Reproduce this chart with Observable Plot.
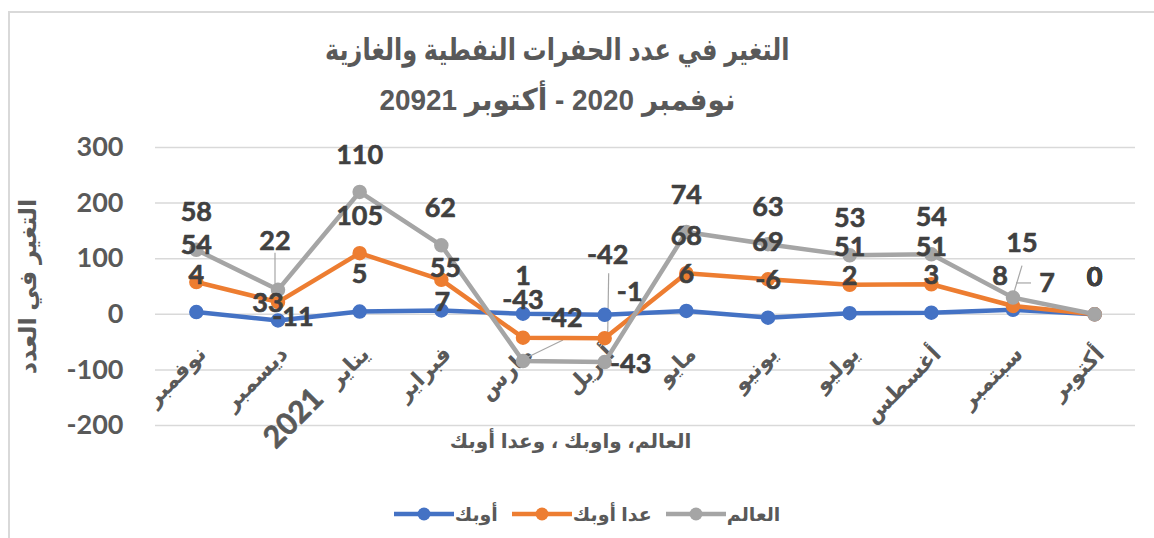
<!DOCTYPE html>
<html><head><meta charset="utf-8">
<script src="https://cdn.jsdelivr.net/npm/d3@7"></script>
<script src="https://cdn.jsdelivr.net/npm/@observablehq/plot@0.6"></script>
<style>
body{margin:0;background:#fff;}
#chart{position:relative;width:1154px;height:538px;overflow:hidden;background:#fff;}
#frame{position:absolute;left:8px;top:11px;width:1170px;height:560px;border:2px solid #d9d9d9;box-sizing:border-box;}
#title{position:absolute;left:0;top:25px;width:1114px;text-align:center;color:#595959;font-family:"Liberation Sans","DejaVu Sans",sans-serif;font-weight:bold;font-size:30px;line-height:50px;}
#title div{direction:rtl;}
#title span{display:inline-block;}
#title .l1{transform:scaleX(0.8);}
#title .l2{transform:scaleX(0.93);}
#plot{position:absolute;left:0;top:125px;}
#legend{position:absolute;left:0;top:494px;width:1160px;height:40px;display:flex;justify-content:center;align-items:center;direction:rtl;font-family:"Liberation Sans","DejaVu Sans",sans-serif;font-weight:bold;font-size:19px;color:#595959;}
.item{display:flex;align-items:center;margin-left:14px;}
.item svg{margin-right:1px;}
</style></head>
<body>
<div id="chart">
<div id="frame"></div>
<div id="title"><div><span class="l1">التغير في عدد الحفرات النفطية والغازية</span></div><div><span class="l2">نوفمبر 2020 - أكتوبر 20921</span></div></div>
<div id="plot"></div>
<div id="legend"></div>
</div>
<script>
// ---- data ----
const months = ["نوفمبر","ديسمبر","يناير","فبراير","مارس","أبريل","مايو","يونيو","يوليو","أغسطس","سبتمبر","أكتوبر"];
const yearNote = "2021";
const opec    = [4, -11, 5, 7, 1, -1, 6, -6, 2, 3, 8, 0];
const nonOpec = [54, 33, 105, 55, -43, -42, 68, 69, 51, 51, 7, 0];
const world   = [58, 22, 110, 62, -42, -43, 74, 63, 53, 54, 15, 0];
const seriesNames = ["أوبك", "عدا أوبك", "العالم"];
const yTicks = [-200, -100, 0, 100, 200, 300];
const yTitle = "التغير في العدد";
const xTitle = "العالم، واوبك ، وعدا أوبك";

// ---- styling / layout ----
const colors = ["#4472C4", "#ED7D31", "#A5A5A5"];
const W = 1154, H = 345, ML = 155, MR = 19, MT = 22, MB = 45;
const numFont = "Lato, 'DejaVu Sans', sans-serif";
const arFont = "'Liberation Sans', 'DejaVu Sans', sans-serif";

// stacked line (cumulative) as in the source chart
const seriesVals = [opec, nonOpec, world];
const rows = [];
const cum = months.map(() => 0);
seriesVals.forEach((vals, s) => {
  vals.forEach((v, i) => {
    cum[i] += v;
    rows.push({s, name: seriesNames[s], i, value: v, cum: cum[i]});
  });
});

// manual label placement (pixel offsets), like moved labels in the source
const labelOffset = {
  "1-0": [15, -3], "1-1": [-10, 1], "1-2": [-3, -48],
  "3-0": [1, -8], "3-1": [4, -11], "3-2": [-1, -37],
  "4-2": [39, -43],
  "5-0": [25, -22], "5-1": [3, -83], "5-2": [26, 2],
  "10-0": [-13, -33], "10-1": [34, -23], "10-2": [9, -54]
};
const off = d => labelOffset[`${d.i}-${d.s}`] || [0, -37];
// leader lines [dx1, dy1, dx2, dy2] relative to a point
const leaders = [
  {i: 1, s: 2, p: [-3, -37, -3, -6]},
  {i: 4, s: 2, p: [5, -4, 40, -21]},
  {i: 5, s: 1, p: [4, -65, 3, -2]},
  {i: 10, s: 2, p: [0, -2, 9, -32]},
  {i: 10, s: 1, p: [3, -23, 18, -23]}
];
const sx = Plot.scale({x: {type: "linear", domain: [-0.5, 11.5], range: [ML, W - MR]}});
const sy = Plot.scale({y: {type: "linear", domain: [-200, 300], range: [H - MB, MT]}});
const leaderRows = leaders.map(l => {
  const r = rows.find(d => d.i === l.i && d.s === l.s);
  const px = sx.apply(r.i), py = sy.apply(r.cum);
  return {
    x1: sx.invert(px + l.p[0]), y1: sy.invert(py + l.p[1]),
    x2: sx.invert(px + l.p[2]), y2: sy.invert(py + l.p[3])
  };
});

const monthRows = months.map((m, i) => ({i, m}));

const marks = [
  Plot.ruleY(yTicks, {stroke: "#d9d9d9", strokeWidth: 1.5}),
  Plot.axisY(yTicks, {tickSize: 0, tickPadding: 32, tickFormat: d => String(d), fontSize: 27, fontWeight: "bold", fill: "#595959", fontFamily: numFont, label: null}),
  Plot.text(monthRows, {x: "i", y: () => 0, text: "m", rotate: -45, textAnchor: "end", dx: 6, dy: 36, fontSize: 22, fontWeight: "bold", fill: "#595959", fontFamily: arFont}),
  Plot.text([yearNote], {x: () => 2, y: () => 0, text: d => d, rotate: -45, dx: -66, dy: 104, fontSize: 30, fontWeight: "bold", fill: "#595959", stroke: "#595959", strokeWidth: 0.7, fontFamily: numFont}),
  Plot.text([yTitle], {frameAnchor: "left", textAnchor: "middle", rotate: -90, dx: -127, dy: 0, text: d => d, fontSize: 24, fontWeight: "bold", fill: "#595959", fontFamily: arFont}),
  Plot.text([xTitle], {frameAnchor: "bottom", textAnchor: "middle", dx: -75, dy: 22, text: d => d, fontSize: 20, fontWeight: "bold", fill: "#595959", fontFamily: arFont}),
  Plot.link(leaderRows, {x1: "x1", y1: "y1", x2: "x2", y2: "y2", stroke: "#a6a6a6", strokeWidth: 1.2})
];
[0, 1, 2].forEach(s => {
  const data = rows.filter(d => d.s === s);
  marks.push(Plot.line(data, {x: "i", y: "cum", stroke: colors[s], strokeWidth: 4.5}));
  marks.push(Plot.dot(data, {x: "i", y: "cum", r: 6.5, fill: colors[s], stroke: colors[s]}));
});
rows.forEach(d => {
  const [dx, dy] = off(d);
  marks.push(Plot.text([d], {x: "i", y: "cum", text: d => String(d.value), dx, dy, fontSize: 27, fontWeight: "bold", fill: "#404040", stroke: "#404040", strokeWidth: 0.6, fontFamily: numFont}));
});

const chart = Plot.plot({
  width: W, height: H,
  marginLeft: ML, marginRight: MR, marginTop: MT, marginBottom: MB,
  x: {type: "linear", domain: [-0.5, 11.5], axis: null},
  y: {type: "linear", domain: [-200, 300], axis: null},
  style: {background: "transparent", overflow: "visible"},
  marks
});
document.getElementById("plot").appendChild(chart);

// legend
const legend = document.getElementById("legend");
[2, 1, 0].forEach(s => {
  const item = document.createElement("div");
  item.className = "item";
  const t = document.createElement("span");
  t.textContent = seriesNames[s];
  item.appendChild(t);
  const ns = "http://www.w3.org/2000/svg";
  const svg = document.createElementNS(ns, "svg");
  svg.setAttribute("width", 60); svg.setAttribute("height", 16);
  const ln = document.createElementNS(ns, "line");
  ln.setAttribute("x1", 0); ln.setAttribute("x2", 60); ln.setAttribute("y1", 8); ln.setAttribute("y2", 8);
  ln.setAttribute("stroke", colors[s]); ln.setAttribute("stroke-width", 4.5);
  const c = document.createElementNS(ns, "circle");
  c.setAttribute("cx", 30); c.setAttribute("cy", 8); c.setAttribute("r", 6.5); c.setAttribute("fill", colors[s]);
  svg.appendChild(ln); svg.appendChild(c);
  item.appendChild(svg);
  legend.appendChild(item);
});
</script>
</body></html>
